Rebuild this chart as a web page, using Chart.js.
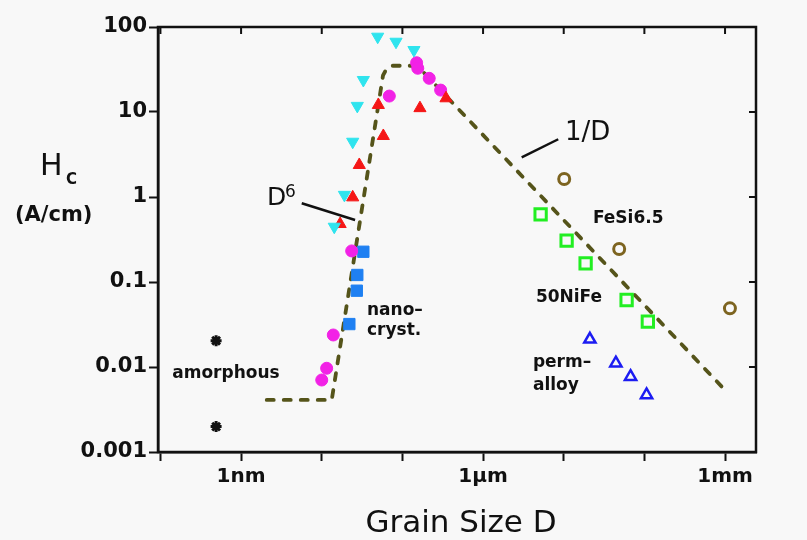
<!DOCTYPE html>
<html>
<head>
<meta charset="utf-8">
<script src="https://cdn.jsdelivr.net/npm/chart.js@4.4.0/dist/chart.umd.min.js"></script>
<style>
  html, body { margin: 0; padding: 0; background: #f8f8f8; }
  #wrap { width: 807px; height: 540px; }
</style>
</head>
<body>
<div id="wrap"><canvas id="hcChart" width="807" height="540"></canvas></div>
<script>
// grain size D in nm, coercivity Hc in A/cm
const amorphousD = [0.49, 0.49];
const amorphousHc = [0.0204, 0.00199];

const cyanD = [49.4, 83.3, 139, 32.8, 27.6, 24.2, 19.1, 14.3];
const cyanHc = [76.9, 67.1, 53.6, 23.8, 11.8, 4.47, 1.06, 0.447];

const redD = [50.3, 58.0, 29.2, 24.2, 16.9, 165, 347];
const redHc = [12.1, 5.22, 2.38, 0.99, 0.481, 11.1, 14.5];

const magentaD = [68.8, 150, 155, 215, 298, 23.5, 13.9, 11.5, 10.0];
const magentaHc = [15.4, 38.0, 32.7, 24.9, 18.1, 0.232, 0.0238, 0.00966, 0.00703];

const nanoD = [32.8, 27.6, 27.2, 22.0];
const nanoHc = [0.227, 0.121, 0.079, 0.032];

const fesiD = [10140, 48700, 1150000];
const fesiHc = [1.63, 0.244, 0.049];

const nifeD = [5170, 10860, 18680, 60200, 110400];
const nifeHc = [0.625, 0.306, 0.166, 0.0614, 0.0341];

const permD = [21100, 44300, 67400, 106400];
const permHc = [0.0212, 0.0111, 0.00769, 0.00469];

// dashed guide: flat, D^6 rise, top, 1/D fall
const trendD = [2.08, 13.3, 57.5, 64, 75, 125, 160, 906000];
const trendHc = [0.0041, 0.0041, 27, 32.5, 35, 35, 33.5, 0.0059];

// leader lines for the D^6 and 1/D labels
const d6LeaderD = [5.65, 25.9];
const d6LeaderHc = [0.843, 0.536];
const invLeaderD = [3010, 8550];
const invLeaderHc = [2.93, 4.78];

const xTicks = [0.1, 1, 10, 100, 1e3, 1e4, 1e5, 1e6];
const xTickLabels = ['', '1nm', '', '', '1\u00b5m', '', '', '1mm'];
const yTicks = [0.001, 0.01, 0.1, 1, 10, 100];
const yTickLabels = ['0.001', '0.01', '0.1', '1', '10', '100'];

const FONT = '"DejaVu Sans", sans-serif';
const INK = '#111';

// text labels inside the plot, anchored in data units (left, baseline)
const notes = [
  { text: 'amorphous', d: 0.140, hc: 0.00743, font: 'bold 17px ' + FONT },
  { text: 'nano\u2013', d: 36.4, hc: 0.0409, font: 'bold 17px ' + FONT },
  { text: 'cryst.', d: 36.4, hc: 0.0238, font: 'bold 17px ' + FONT },
  { text: 'perm\u2013', d: 4150, hc: 0.0101, font: 'bold 17px ' + FONT },
  { text: 'alloy', d: 4150, hc: 0.00536, font: 'bold 17px ' + FONT },
  { text: '50NiFe', d: 4520, hc: 0.0586, font: 'bold 17px ' + FONT },
  { text: 'FeSi6.5', d: 23000, hc: 0.491, font: 'bold 17px ' + FONT },
  { text: '1/D', d: 10350, hc: 4.69, font: '26px ' + FONT },
  { text: 'D', d: 2.10, hc: 0.805, font: '25px ' + FONT },
  { text: '6', d: 3.51, hc: 1.01, font: '17px ' + FONT }
];

function pts(xs, ys) {
  return xs.map((v, i) => ({ x: v, y: ys[i] }));
}

const frameAndNotes = {
  id: 'frameAndNotes',
  beforeDraw(chart) {
    const ctx = chart.ctx;
    ctx.save();
    ctx.fillStyle = '#f8f8f8';
    ctx.fillRect(0, 0, chart.width, chart.height);
    ctx.restore();
  },
  afterDraw(chart) {
    const { ctx, chartArea: a, scales: { x, y } } = chart;
    ctx.save();
    ctx.strokeStyle = INK;
    ctx.lineWidth = 2.5;
    ctx.strokeRect(a.left, a.top, a.right - a.left, a.bottom - a.top);

    // inward ticks on top and right
    ctx.lineWidth = 2;
    ctx.beginPath();
    xTicks.forEach(v => {
      const px = x.getPixelForValue(v);
      ctx.moveTo(px, a.top);
      ctx.lineTo(px, a.top + 7);
    });
    yTicks.forEach(v => {
      const py = y.getPixelForValue(v);
      ctx.moveTo(a.right, py);
      ctx.lineTo(a.right - 7, py);
    });
    ctx.stroke();

    ctx.fillStyle = INK;
    ctx.textAlign = 'left';
    ctx.textBaseline = 'alphabetic';
    notes.forEach(n => {
      ctx.font = n.font;
      ctx.fillText(n.text, x.getPixelForValue(n.d), y.getPixelForValue(n.hc));
    });

    // axis titles
    ctx.font = '31px ' + FONT;
    ctx.textAlign = 'center';
    ctx.fillText('Grain Size D', 461, 532);
    ctx.textAlign = 'left';
    ctx.font = '30px ' + FONT;
    ctx.fillText('H', 40, 175);
    ctx.font = 'bold 15px ' + FONT;
    ctx.fillText('C', 66, 184);
    ctx.font = 'bold 21px ' + FONT;
    ctx.fillText('(A/cm)', 15, 221);
    ctx.restore();
  }
};

window.addEventListener('DOMContentLoaded', () => {
  const ctx = document.getElementById('hcChart').getContext('2d');
  new Chart(ctx, {
    type: 'scatter',
    data: {
      datasets: [
        {
          label: 'amorphous', data: pts(amorphousD, amorphousHc),
          pointStyle: 'star', pointRadius: 5.5, pointBorderWidth: 3,
          pointBorderColor: INK, pointBackgroundColor: INK
        },
        {
          label: 'Fe-based', data: pts(cyanD, cyanHc),
          pointStyle: 'triangle', pointRotation: 180, pointRadius: 7, pointBorderWidth: 1,
          pointBorderColor: '#2fe4ee', pointBackgroundColor: '#2fe4ee'
        },
        {
          label: 'red', data: pts(redD, redHc),
          pointStyle: 'triangle', pointRadius: 7, pointBorderWidth: 1,
          pointBorderColor: '#f51616', pointBackgroundColor: '#f51616'
        },
        {
          label: 'magenta', data: pts(magentaD, magentaHc),
          pointStyle: 'circle', pointRadius: 6, pointBorderWidth: 1,
          pointBorderColor: '#f222e6', pointBackgroundColor: '#f222e6'
        },
        {
          label: 'nanocryst', data: pts(nanoD, nanoHc),
          pointStyle: 'rect', pointRadius: 8, pointBorderWidth: 1,
          pointBorderColor: '#1f80f2', pointBackgroundColor: '#1f80f2'
        },
        {
          label: 'FeSi6.5', data: pts(fesiD, fesiHc),
          pointStyle: 'circle', pointRadius: 5.5, pointBorderWidth: 3,
          pointBorderColor: '#7d6420', pointBackgroundColor: 'rgba(0,0,0,0)'
        },
        {
          label: '50NiFe', data: pts(nifeD, nifeHc),
          pointStyle: 'rect', pointRadius: 8, pointBorderWidth: 3,
          pointBorderColor: '#22ee22', pointBackgroundColor: 'rgba(0,0,0,0)'
        },
        {
          label: 'permalloy', data: pts(permD, permHc),
          pointStyle: 'triangle', pointRadius: 6.5, pointBorderWidth: 2.5,
          pointBorderColor: '#1c1cf2', pointBackgroundColor: 'rgba(0,0,0,0)'
        },
        {
          label: 'D6 leader', data: pts(d6LeaderD, d6LeaderHc),
          showLine: true, borderColor: INK, borderWidth: 2.5, pointRadius: 0
        },
        {
          label: '1/D leader', data: pts(invLeaderD, invLeaderHc),
          showLine: true, borderColor: INK, borderWidth: 2.5, pointRadius: 0
        },
        {
          label: 'trend', data: pts(trendD, trendHc),
          showLine: true, borderColor: '#55541a', borderWidth: 3.8,
          borderDash: [7, 10], borderCapStyle: 'round', pointRadius: 0, tension: 0
        }
      ]
    },
    options: {
      responsive: false,
      animation: false,
      devicePixelRatio: 1,
      layout: { padding: { top: 27, right: 51, bottom: 0, left: 0 } },
      plugins: {
        legend: { display: false },
        tooltip: { enabled: false }
      },
      scales: {
        x: {
          type: 'logarithmic',
          min: 0.0933,
          max: 2420000,
          afterFit(s) { s.height = 88; },
          afterBuildTicks(s) { s.ticks = xTicks.map(v => ({ value: v })); },
          grid: { drawOnChartArea: false, tickLength: 9, tickWidth: 2, tickColor: INK },
          border: { display: true, color: INK, width: 2.5 },
          ticks: {
            callback: (v, i) => xTickLabels[i],
            autoSkip: false, maxRotation: 0, padding: 4,
            color: INK, font: { family: FONT, size: 20, weight: 'bold' }
          }
        },
        y: {
          type: 'logarithmic',
          min: 0.001,
          max: 100,
          afterFit(s) { s.width = 158; },
          afterBuildTicks(s) { s.ticks = yTicks.map(v => ({ value: v })); },
          grid: { drawOnChartArea: false, tickLength: 9, tickWidth: 2, tickColor: INK },
          border: { display: true, color: INK, width: 2.5 },
          ticks: {
            callback: (v, i) => yTickLabels[i],
            autoSkip: false, padding: 2,
            color: INK, font: { family: FONT, size: 21, weight: 'bold' }
          }
        }
      }
    },
    plugins: [frameAndNotes]
  });
});
</script>
</body>
</html>
